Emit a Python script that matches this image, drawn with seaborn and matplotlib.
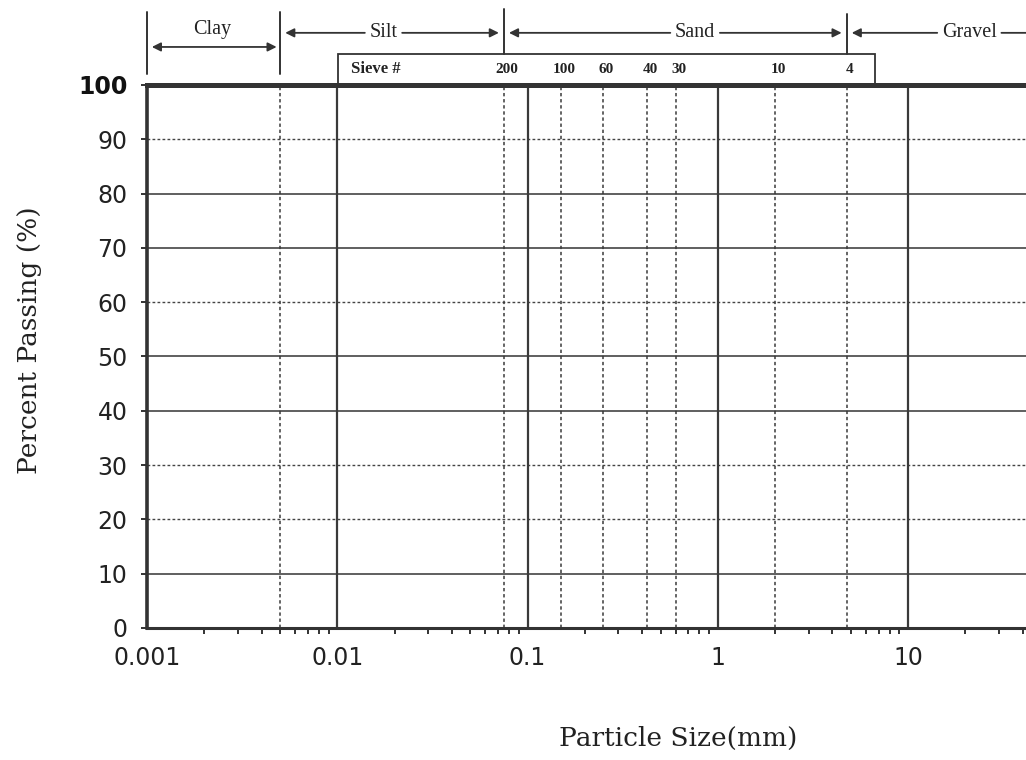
#!/usr/bin/python
# coding: utf-8
# Grain size distribution chart template (percent passing vs particle size)

import matplotlib
matplotlib.use("Agg")
import matplotlib.pyplot as plt
import matplotlib.ticker as mticker
from matplotlib.patches import Rectangle
import seaborn as sns


# axis values
decades = [0.001, 0.01, 0.1, 1, 10]
decade_labels = ["0.001", "0.01", "0.1", "1", "10"]
percent_ticks = [0, 10, 20, 30, 40, 50, 60, 70, 80, 90, 100]
solid_rows = [10, 40, 50, 70, 80]
dotted_rows = [20, 30, 60, 90]

# sieve numbers and their openings (mm)
sieve_numbers = ["200", "100", "60", "40", "30", "10", "4"]
sieve_sizes = [0.075, 0.15, 0.25, 0.425, 0.6, 2.0, 4.75]

# soil classes and their limits (mm)
zone_names = ["Clay", "Silt", "Sand", "Gravel"]
zone_bounds = [0.001, 0.005, 0.075, 4.75, 75]


def main():
    sns.set_style("white")
    plt.rcParams["font.family"] = ["DejaVu Sans"]
    ink = "#333333"
    serif = ["Liberation Serif", "DejaVu Serif"]
    wide_serif = ["DejaVu Serif"]

    fig = plt.figure(figsize=(10.26, 7.6), dpi=100)
    ax = fig.add_axes([0.1433, 0.1737, 0.8567, 0.7145])
    ax.set_xscale("log")
    ax.set_xlim(0.001, 41.7)
    ax.set_ylim(0, 100)

    # horizontal grid rows
    for p in solid_rows:
        ax.axhline(p, color="#444444", lw=1.2, zorder=1)
    for p in dotted_rows:
        ax.axhline(p, color="#444444", lw=1.0, ls=(0, (2, 1.6)), zorder=1)

    # vertical decade lines and class / sieve lines
    for d in decades[1:]:
        ax.axvline(d, color="#3a3a3a", lw=1.6, zorder=1)
    for s in [zone_bounds[1]] + sieve_sizes:
        ax.axvline(s, color="#3a3a3a", lw=1.1, ls=(0, (2.2, 1.8)), zorder=1)

    # spines
    sns.despine(ax=ax, right=True, top=False)
    ax.spines["top"].set_linewidth(3.6)
    ax.spines["top"].set_color(ink)
    ax.spines["left"].set_linewidth(2.6)
    ax.spines["left"].set_color(ink)
    ax.spines["bottom"].set_linewidth(2.2)
    ax.spines["bottom"].set_color(ink)

    # ticks
    ax.set_xticks(decades, labels=decade_labels)
    ax.xaxis.set_minor_locator(mticker.LogLocator(base=10, subs=range(2, 10), numticks=20))
    ax.xaxis.set_minor_formatter(mticker.NullFormatter())
    ax.set_yticks(percent_ticks)
    ax.tick_params(axis="x", which="major", direction="out", length=6, width=1.6,
                   color=ink, pad=7, labelsize=17, labelcolor="#222222")
    ax.tick_params(axis="x", which="minor", direction="out", length=4, width=1.4,
                   color=ink, bottom=True)
    ax.tick_params(axis="y", direction="out", length=4, width=1.4, color=ink,
                   pad=10, labelsize=17, labelcolor="#222222", left=True)
    ax.get_yticklabels()[-1].set_fontweight("bold")
    ax.get_yticklabels()[-1].set_color("#111111")

    # sieve number box above the chart
    trans = ax.get_xaxis_transform()
    ax.add_patch(Rectangle((0.0101, 1.0), 6.7 - 0.0101, 0.057, transform=trans,
                           fill=False, ec=ink, lw=1.3, clip_on=False))
    ax.text(0.0118, 1.029, "Sieve #", transform=trans, ha="left", va="center",
            fontsize=12, family=serif, weight="bold", color="#222222")
    for num, size in zip(sieve_numbers, sieve_sizes):
        ax.text(size * 1.04, 1.028, num, transform=trans, ha="center", va="center",
                fontsize=11, family=serif, weight="bold", color="#222222")

    # class boundary marks
    for b, y0, y1 in [(zone_bounds[0], 1.02, 1.134), (zone_bounds[1], 1.02, 1.134),
                      (zone_bounds[2], 1.057, 1.14), (zone_bounds[3], 1.057, 1.13)]:
        ax.plot([b, b], [y0, y1], transform=trans, color=ink, lw=1.4, clip_on=False)

    # class labels with arrows
    label_x = [0.0022, 0.0175, 0.76, 21.0]
    arrow = dict(arrowstyle="-|>", color=ink, lw=1.3, mutation_scale=13,
                 shrinkA=1, shrinkB=2)

    ax.text(label_x[0], 1.102, zone_names[0], transform=trans, ha="center",
            va="center", fontsize=14.5, family=serif, color="#222222")
    ax.annotate("", xy=(zone_bounds[0] * 1.06, 1.07), xytext=(zone_bounds[1] * 0.96, 1.07),
                xycoords=trans, textcoords=trans, annotation_clip=False,
                arrowprops=dict(arrowstyle="<|-|>", color=ink, lw=1.3,
                                mutation_scale=13, shrinkA=0, shrinkB=0))

    for i in range(1, 4):
        lo, hi = zone_bounds[i] * 1.03, zone_bounds[i + 1] * 0.975
        for k, target in enumerate([lo, hi]):
            ax.annotate(zone_names[i], xy=(target, 1.096), xytext=(label_x[i], 1.096),
                        xycoords=trans, textcoords=trans, ha="center", va="center",
                        fontsize=14.5, family=serif,
                        color="#222222" if k == 0 else "none",
                        annotation_clip=False, arrowprops=arrow)

    # axis titles
    fig.text(0.029, 0.553, "Percent Passing (%)", rotation=90, ha="center", va="center",
             fontsize=19, family=wide_serif, color="#222222")
    fig.text(0.661, 0.029, "Particle Size(mm)", ha="center", va="center",
             fontsize=19, family=wide_serif, color="#222222")

    fig.savefig("out.png", dpi=100)


if __name__ == "__main__":
    main()
